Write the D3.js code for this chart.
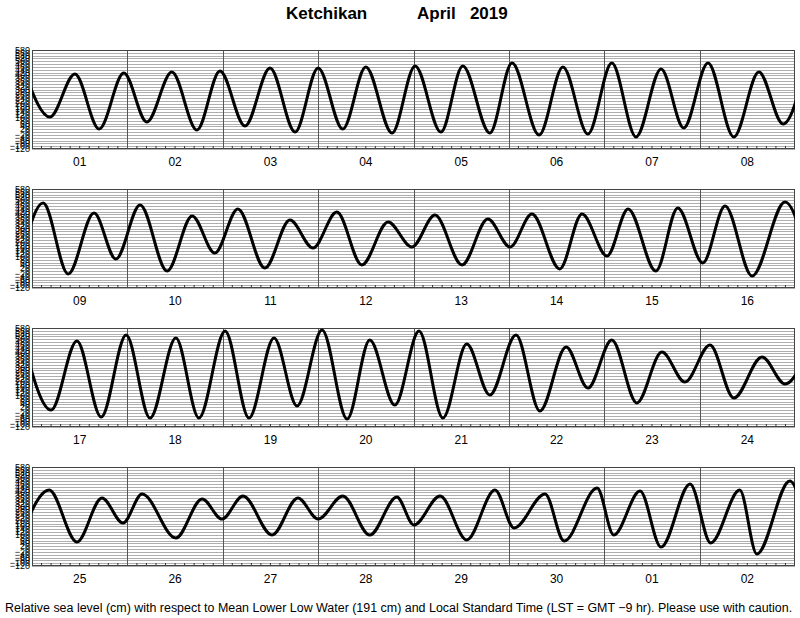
<!DOCTYPE html>
<html><head><meta charset="utf-8">
<script src="https://cdn.jsdelivr.net/npm/d3@7"></script>
<style>body{margin:0;background:#fff}svg{display:block}</style>
</head><body>
<script>
// ---- data ----
const titleStation = "Ketchikan";
const titleMonth = "April   2019";
const footnote = "Relative sea level (cm) with respect to Mean Lower Low Water (191 cm) and Local Standard Time (LST = GMT \u22129 hr). Please use with caution.";
const yTickLabels = [-120,-100,-80,-60,-40,-20,0,20,40,60,80,100,120,140,160,180,200,220,240,260,280,300,320,340,360,380,400,420,440,460,480,500,520,540,560,580];
const dayLabels1 = ["01","02","03","04","05","06","07","08"];
const dayLabels2 = ["09","10","11","12","13","14","15","16"];
const dayLabels3 = ["17","18","19","20","21","22","23","24"];
const dayLabels4 = ["25","26","27","28","29","30","01","02"];
// extremes: hours from panel start, levels in cm
const hours1 = [-1.7,4.5,10.8,16.9,23.1,28.9,35.2,41.5,47.3,53.6,59.9,66.2,72.0,78.2,84.0,90.6,96.4,102.9,108.4,115.2,120.8,127.6,133.6,139.9,145.9,152.0,158.3,164.0,170.1,176.6,182.9,189.0,194.8];
const levels1 = [410,106,410,21,417,71,424,14,432,43,453,0,453,21,460,-7,467,0,467,-7,488,-21,460,-14,488,-35,446,29,488,-35,424,57,480];
const hours2 = [-3.0,2.8,9.1,15.6,21.1,27.2,34.0,40.3,46.0,51.8,58.6,64.9,70.7,76.7,83.0,89.6,95.6,101.4,108.2,114.7,120.3,125.8,132.8,138.4,144.7,150.0,157.0,162.5,168.8,174.4,181.2,189.5,196.0];
const levels2 = [57,481,-21,410,85,467,0,389,127,439,21,361,163,417,43,347,170,396,43,368,170,403,15,403,106,439,0,446,57,460,-35,488,-20];
const hours3 = [-2.2,4.8,11.3,17.4,23.7,29.7,36.2,42.0,48.6,54.6,60.9,66.7,73.0,79.3,85.0,91.3,97.4,103.4,109.4,115.2,121.8,127.8,134.4,139.9,145.9,152.2,158.5,164.3,170.6,176.6,183.7,189.5,195.5];
const levels3 = [488,0,488,-50,530,-57,509,-56,559,-56,509,29,566,-64,495,35,559,-56,467,106,531,-7,446,155,495,50,410,198,460,85,375,184,440];
const hours4 = [-2.0,4.3,11.3,17.6,22.9,27.7,36.2,42.8,47.8,53.1,60.4,66.9,72.0,78.2,85.0,91.8,96.1,102.7,109.4,116.5,121.3,129.1,133.9,142.2,146.4,153.0,158.3,165.6,170.8,178.1,182.4,190.7,196.0];
const levels4 = [150,417,50,361,184,389,78,354,212,375,99,361,212,375,99,368,170,375,64,417,149,389,57,432,99,410,14,460,43,417,-35,481,-30];

const panels = [
  {days: dayLabels1, hours: hours1, levels: levels1},
  {days: dayLabels2, hours: hours2, levels: levels2},
  {days: dayLabels3, hours: hours3, levels: levels3},
  {days: dayLabels4, hours: hours4, levels: levels4}
];

// ---- layout ----
const W = 800, H = 618;
const left = 32, right = 795, ph = 99;
const tops = [50, 189, 328, 467];
const font = "'Liberation Sans', Arial, Helvetica, sans-serif";

const svg = d3.select("body").append("svg").attr("width", W).attr("height", H)
  .style("font-family", font);

svg.append("text").attr("x", 286).attr("y", 19).attr("font-size", 17).attr("font-weight", "bold").text(titleStation);
svg.append("text").attr("x", 417).attr("y", 19).attr("font-size", 17).attr("font-weight", "bold")
  .attr("xml:space", "preserve").style("white-space", "pre").text(titleMonth);

const x = d3.scaleLinear().domain([0, 192]).range([left, right]);

panels.forEach((p, i) => {
  const top = tops[i];
  const y = d3.scaleLinear().domain([-120, 580]).range([top + ph, top]);
  const g = svg.append("g");

  // horizontal grid
  g.selectAll("line.h").data(yTickLabels).join("line")
    .attr("x1", left).attr("x2", right)
    .attr("y1", d => Math.round(y(d)) + 0.5).attr("y2", d => Math.round(y(d)) + 0.5)
    .attr("stroke", "#9a9a9a").attr("stroke-width", 0.8);

  // y labels
  g.selectAll("text.yl").data(yTickLabels).join("text")
    .attr("x", left - 2).attr("y", d => y(d) + 3)
    .attr("text-anchor", "end").attr("font-size", 9)
    .text(d => d < 0 ? "\u2212" + Math.abs(d) : d);

  // day separators
  g.selectAll("line.d").data(d3.range(1, 8)).join("line")
    .attr("x1", d => Math.round(x(d * 24)) + 0.5).attr("x2", d => Math.round(x(d * 24)) + 0.5)
    .attr("y1", top).attr("y2", top + ph)
    .attr("stroke", "#555").attr("stroke-width", 1);

  // hour ticks on bottom
  const ticks = d3.range(0, 192, 2.4).filter(h => h % 24 !== 0);
  g.selectAll("line.t").data(ticks).join("line")
    .attr("x1", d => x(d)).attr("x2", d => x(d))
    .attr("y1", top + ph).attr("y2", top + ph - 3)
    .attr("stroke", "#333").attr("stroke-width", 1);

  // frame
  g.append("rect").attr("x", left + 0.5).attr("y", top + 0.5).attr("width", right - left - 1).attr("height", ph - 1)
    .attr("fill", "none").attr("stroke", "#444").attr("stroke-width", 1);

  // day labels
  g.selectAll("text.day").data(p.days).join("text")
    .attr("x", (d, k) => x(k * 24 + 12)).attr("y", top + ph + 17)
    .attr("text-anchor", "middle").attr("font-size", 12).text(d => d);

  // curve
  const cid = "clip" + i;
  svg.append("clipPath").attr("id", cid).append("rect")
    .attr("x", left).attr("y", top - 5).attr("width", right - left).attr("height", ph + 10);
  const pts = p.hours.map((h, k) => ({h: h, v: p.levels[k]}));
  const line = d3.line().x(d => x(d.h)).y(d => y(d.v)).curve(d3.curveMonotoneX);
  g.append("path").attr("clip-path", `url(#${cid})`).datum(pts).attr("d", line)
    .attr("fill", "none").attr("stroke", "#000").attr("stroke-width", 3).attr("stroke-linejoin", "round");
});

// footnote
const fn = svg.append("text").attr("x", 5).attr("y", 612).attr("font-size", 11).text(footnote);
const len = fn.node().getComputedTextLength();
fn.attr("font-size", 11 * 788 / len);
</script>
</body></html>
